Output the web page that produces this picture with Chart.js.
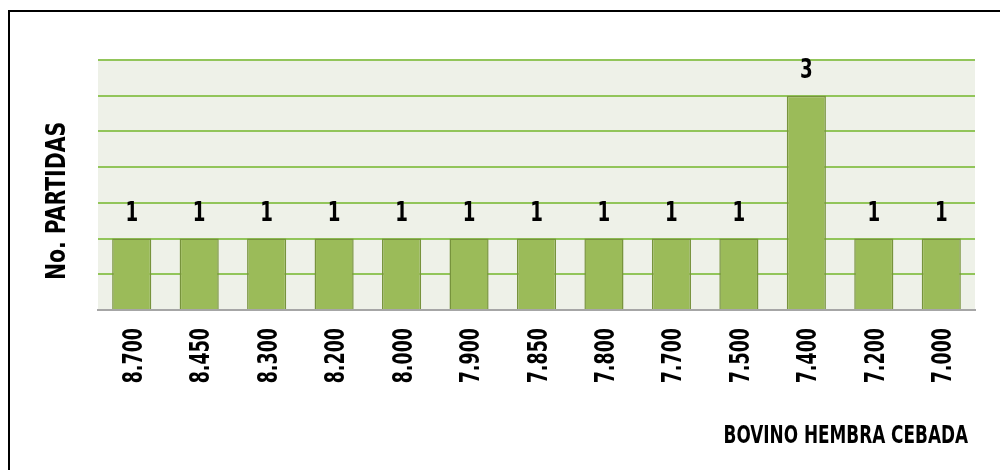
<!DOCTYPE html>
<html>
<head>
<meta charset="utf-8">
<script src="https://cdn.jsdelivr.net/npm/chart.js@4"></script>
<style>
  html, body { margin: 0; padding: 0; background: #fff; }
  #wrap { width: 1000px; height: 470px; }
</style>
</head>
<body>
<div id="wrap"><canvas id="chartCanvas" width="1000" height="470"></canvas></div>
<script>
const categories = ['8.700', '8.450', '8.300', '8.200', '8.000', '7.900', '7.850', '7.800', '7.700', '7.500', '7.400', '7.200', '7.000'];
const partidas = [1, 1, 1, 1, 1, 1, 1, 1, 1, 1, 3, 1, 1];
const yTicks = [0, 0.5, 1, 1.5, 2, 2.5, 3, 3.5];

const xTitle = 'BOVINO HEMBRA CEBADA';
const yTitle = 'No. PARTIDAS';
const fontFam = '"DejaVu Sans Condensed", "DejaVu Sans", sans-serif';

// texto estrechado horizontalmente (la fuente original es muy condensada)
function narrowText(ctx, text, x, y, sx, rot) {
  ctx.save();
  ctx.translate(x, y);
  if (rot) ctx.rotate(rot);
  ctx.scale(sx, 1);
  ctx.fillText(text, 0, 0);
  ctx.restore();
}

// fondo del area de grafico
const plotBg = {
  id: 'plotBg',
  beforeDraw(chart) {
    const { ctx, chartArea: a } = chart;
    ctx.save();
    ctx.fillStyle = '#eef1e8';
    ctx.fillRect(a.left, a.top, a.right - a.left, a.bottom - a.top);
    ctx.restore();
  }
};

// marco, etiquetas del eje x, valores y titulos
const extras = {
  id: 'extras',
  afterDraw(chart) {
    const ctx = chart.ctx;
    ctx.save();
    ctx.strokeStyle = '#000';
    ctx.lineWidth = 2;
    ctx.beginPath();
    ctx.moveTo(9, 470);
    ctx.lineTo(9, 11);
    ctx.lineTo(1000, 11);
    ctx.stroke();

    ctx.fillStyle = '#000';
    ctx.textBaseline = 'alphabetic';

    // etiquetas de categorias, giradas
    const xs = chart.scales.x;
    ctx.font = 'bold 27px ' + fontFam;
    ctx.textAlign = 'right';
    categories.forEach((c, i) => {
      narrowText(ctx, c, xs.getPixelForTick(i) + 10, chart.chartArea.bottom + 18, 0.72, -Math.PI / 2);
    });

    // valores sobre las barras
    ctx.textAlign = 'center';
    chart.getDatasetMeta(0).data.forEach((bar, i) => {
      narrowText(ctx, String(partidas[i]), bar.x, bar.y - 18, 0.75);
    });

    ctx.font = 'bold 25px ' + fontFam;
    ctx.textAlign = 'right';
    narrowText(ctx, xTitle, 968, 443, 0.75);

    ctx.font = 'bold 27px ' + fontFam;
    ctx.textAlign = 'center';
    narrowText(ctx, yTitle, 65, 201, 0.84, -Math.PI / 2);
    ctx.restore();
  }
};

const ctx = document.getElementById('chartCanvas').getContext('2d');
const chart = new Chart(ctx, {
  type: 'bar',
  data: {
    labels: categories,
    datasets: [{
      data: partidas,
      backgroundColor: '#9bbb59',
      borderColor: '#77933c',
      borderWidth: 1.5,
      barPercentage: 0.58,
      categoryPercentage: 1
    }]
  },
  options: {
    responsive: false,
    animation: false,
    layout: { padding: { top: 60, left: 98, right: 25, bottom: 0 } },
    plugins: { legend: { display: false }, tooltip: { enabled: false } },
    scales: {
      x: {
        grid: { display: false },
        border: { color: '#a6a6a6', width: 2 },
        ticks: { display: false },
        afterFit(scale) { scale.height = 160; }
      },
      y: {
        min: 0,
        max: 3.5,
        afterBuildTicks(scale) { scale.ticks = yTicks.map(v => ({ value: v })); },
        ticks: { display: false },
        border: { display: false },
        grid: {
          drawTicks: false,
          lineWidth: 2,
          color: c => c.tick.value === 0 ? 'rgba(0,0,0,0)' : '#92c55a'
        },
        afterFit(scale) { scale.width = 0; }
      }
    }
  },
  plugins: [plotBg, extras]
});
</script>
</body>
</html>
